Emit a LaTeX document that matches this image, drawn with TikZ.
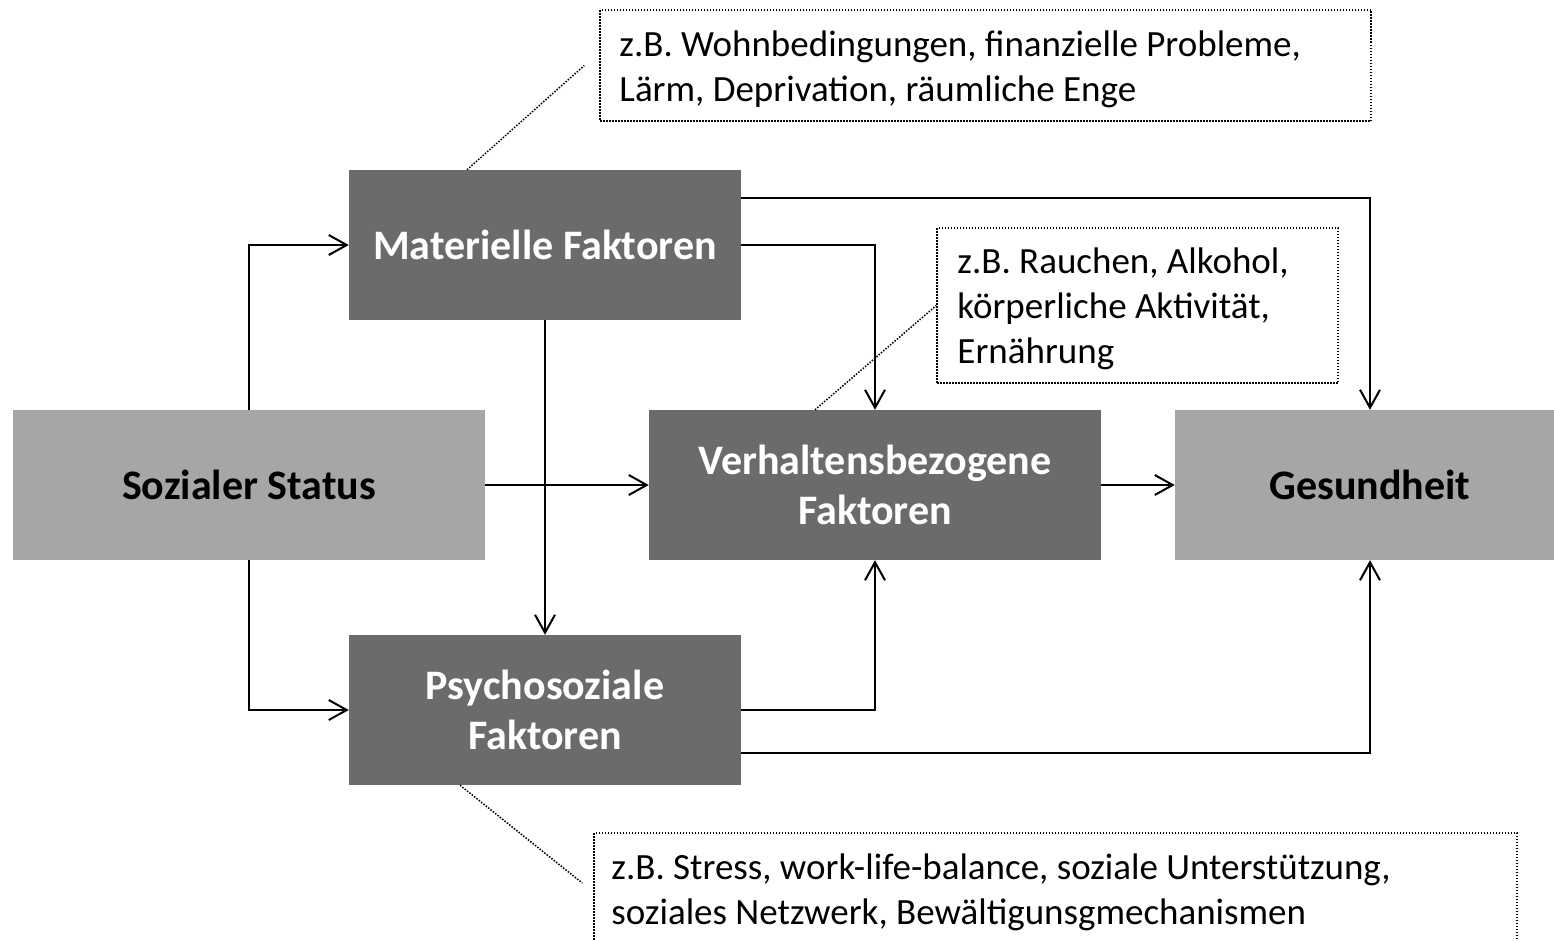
\documentclass[tikz,border=0pt]{standalone}
\usepackage{fontspec}
\setmainfont{Carlito}
\usetikzlibrary{arrows.meta}
\definecolor{darkbox}{HTML}{6B6B6B}
\definecolor{lightbox}{HTML}{A6A6A6}
\begin{document}
\frenchspacing
\begin{tikzpicture}[x=1pt,y=-1pt,
 box/.style={rectangle, inner sep=0pt, align=center, font=\fontsize{42}{50}\selectfont\bfseries},
 darkb/.style={box, fill=darkbox, text=white},
 lightb/.style={box, fill=lightbox, text=black},
 notebox/.style={draw=black, line width=1.5pt, dash pattern=on 1.5pt off 1.5pt, rectangle, inner sep=0pt},
 notetext/.style={anchor=west, align=left, inner sep=0pt, font=\fontsize{37}{45}\selectfont},
 conn/.style={line width=2pt, -{Straight Barb[length=18pt,width=20pt,line width=2pt]}},
 leader/.style={line width=1.5pt, dash pattern=on 1.5pt off 1.5pt}]
\useasboundingbox (0,0) rectangle (1554,940);

\node[lightb, minimum width=472pt, minimum height=150pt] (soz) at (249,485) {Sozialer Status};
\node[darkb, minimum width=392pt, minimum height=150pt] (mat) at (545,245) {Materielle Faktoren};
\node[darkb, minimum width=452pt, minimum height=150pt] (ver) at (875,485) {Verhaltensbezogene\\Faktoren};
\node[lightb, minimum width=379pt, minimum height=150pt] (ges) at (1364.5,485) {\hspace*{11pt}Gesundheit};
\node[darkb, minimum width=392pt, minimum height=150pt] (psy) at (545,710) {Psychosoziale\\Faktoren};

\node[notebox, minimum width=771pt, minimum height=111pt] (b1) at (985.5,65.5) {};
\node[notetext] (n1) at ([xshift=20pt,yshift=-4pt]b1.west) {z.B. Wohnbedingungen, finanzielle Probleme,\\Lärm, Deprivation, räumliche Enge};
\node[notebox, minimum width=401pt, minimum height=155pt] (b2) at (1137.5,305.5) {};
\node[notetext] (n2) at ([xshift=21pt,yshift=-3pt]b2.west) {z.B. Rauchen, Alkohol,\\körperliche Aktivität,\\Ernährung};
\node[notebox, minimum width=923pt, minimum height=116pt] (b3) at (1055.5,891) {};
\node[notetext] (n3) at ([xshift=18pt,yshift=-1pt]b3.west) {z.B. Stress, work-life-balance, soziale Unterstützung,\\soziales Netzwerk, Bewältigunsgmechanismen};

\draw[conn] (soz.north) |- (mat.west);
\draw[conn] (soz.south) |- (psy.west);
\draw[conn] (soz.east) -- (ver.west);
\draw[conn] (mat.south) -- (psy.north);
\draw[conn] (mat.east) -| (ver.north);
\draw[conn] ([yshift=47pt]mat.east) -| ([xshift=5.5pt]ges.north);
\draw[conn] (psy.east) -| (ver.south);
\draw[conn] ([yshift=-43pt]psy.east) -| ([xshift=5.5pt]ges.south);
\draw[conn] (ver.east) -- (ges.west);

\draw[leader] ([xshift=-78pt]mat.north) -- ([xshift=-15pt]b1.west);
\draw[leader] ([xshift=-60pt]ver.north) -- (b2.west);
\draw[leader] ([xshift=-85pt]psy.south) -- ([xshift=-11pt,yshift=8pt]b3.west);
\end{tikzpicture}
\end{document}
